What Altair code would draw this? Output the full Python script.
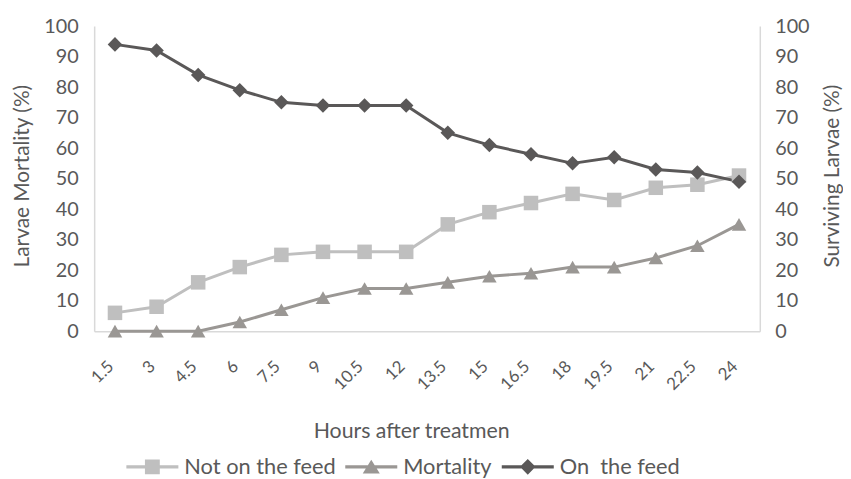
import altair as alt
import pandas as pd

hours = ["1.5", "3", "4.5", "6", "7.5", "9", "10.5", "12", "13.5", "15",
         "16.5", "18", "19.5", "21", "22.5", "24"]
not_on_feed = [6, 8, 16, 21, 25, 26, 26, 26, 35, 39, 42, 45, 43, 47, 48, 51]
mortality = [0, 0, 0, 3, 7, 11, 14, 14, 16, 18, 19, 21, 21, 24, 28, 35]
on_feed = [94, 92, 84, 79, 75, 74, 74, 74, 65, 61, 58, 55, 57, 53, 52, 49]

series_names = ["Not on the feed", "\u00a0Mortality", "On\u00a0 the feed"]
series_colors = ["#bfbfbf", "#9a9794", "#5a5858"]
marker_shapes = ["square", "triangle-up", "diamond"]
y_ticks = [0, 10, 20, 30, 40, 50, 60, 70, 80, 90, 100]

# legend symbols: a short line with the marker on it (unit coordinates)
LINE = "M-1,-0.22L6,-0.22L6,0.22L-1,0.22Z"
legend_paths = [
    LINE + "M1.5,-1L3.5,-1L3.5,1L1.5,1Z",
    LINE + "M2.5,-0.95L3.65,0.9L1.35,0.9Z",
    LINE + "M2.5,-1.05L3.55,0L2.5,1.05L1.45,0Z",
]

rows = []
for name, vals in zip(series_names, [not_on_feed, mortality, on_feed]):
    for h, v in zip(hours, vals):
        rows.append({"hours": h, "value": v, "series": name})
df = pd.DataFrame(rows)

FONT = "Lato"
TXT = "#595959"
AXC = "#d9d9d9"

base = alt.Chart(df)

x_enc = alt.X(
    "hours:O", sort=hours,
    axis=alt.Axis(
        title="Hours after treatmen", labelAngle=-45, labelPadding=27,
        labelOffset=-10,
        ticks=False, tickSize=0, domainColor=AXC, domainWidth=1.5,
        labelFontSize=17, labelColor=TXT, titleFontSize=21.5, titleColor=TXT,
        titleFontWeight="normal", titleX=320, titleY=101,
        titleBaseline="middle", titleAlign="center",
    ),
)

y_scale = alt.Scale(domain=[0, 100], nice=False)

color_main = alt.Color("series:N", scale=alt.Scale(domain=series_names, range=series_colors), legend=None)

lines = base.mark_line(strokeWidth=3).encode(
    x=x_enc,
    y=alt.Y("value:Q", scale=y_scale, axis=alt.Axis(
        orient="left", values=y_ticks, title="Larvae Mortality (%)",
        ticks=False, tickSize=0, grid=False, domainColor=AXC, domainWidth=1.5,
        labelPadding=16, labelFontSize=20, labelColor=TXT,
        titleFontSize=21, titleColor=TXT, titleFontWeight="normal",
        titleX=-72, titleY=151, titleBaseline="middle", titleAngle=270,
    )),
    color=color_main,
    detail="series:N",
)

points = base.mark_point(filled=True, size=215, opacity=1).encode(
    x=x_enc,
    y=alt.Y("value:Q", scale=y_scale, axis=None),
    color=color_main,
    shape=alt.Shape("series:N", scale=alt.Scale(domain=series_names, range=marker_shapes), legend=None),
)

right_axis = base.mark_point(opacity=0).encode(
    x=x_enc,
    y=alt.Y("value:Q", scale=y_scale, axis=alt.Axis(
        orient="right", values=y_ticks, title="Surviving Larvae (%)",
        ticks=False, tickSize=0, grid=False, domainColor=AXC, domainWidth=1.5,
        labelPadding=15, labelFontSize=20, labelColor=TXT,
        titleFontSize=21, titleColor=TXT, titleFontWeight="normal",
        titleX=73, titleY=151, titleBaseline="middle", titleAngle=270,
    )),
)

legend_def = alt.Legend(title=None, orient="none", direction="horizontal",
                        legendX=29, legendY=434, symbolSize=225,
                        symbolStrokeWidth=0, labelOffset=40,
                        columnPadding=6, labelFontSize=22, labelLimit=0,
                        labelColor=TXT, labelFont=FONT)

legend_layer = base.transform_filter("false").mark_point(filled=True, opacity=1).encode(
    x=x_enc,
    y=alt.Y("value:Q", scale=y_scale, axis=None),
    color=alt.Color("series:N", scale=alt.Scale(domain=series_names, range=series_colors),
                    legend=legend_def),
    shape=alt.Shape("series:N", scale=alt.Scale(domain=series_names, range=legend_paths),
                    legend=legend_def),
)

chart = alt.layer(lines, points, right_axis, legend_layer).resolve_scale(
    y="independent", color="independent", shape="independent"
).properties(
    width=672, height=308,
    autosize=alt.AutoSizeParams(type="none"),
    padding={"left": 87, "top": 16, "right": 84, "bottom": 146},
).configure_view(stroke=None).configure_axis(
    labelFont=FONT, titleFont=FONT
).configure_legend(labelFont=FONT)

chart.save("out.html", embed_options={"renderer": "svg", "actions": False})
